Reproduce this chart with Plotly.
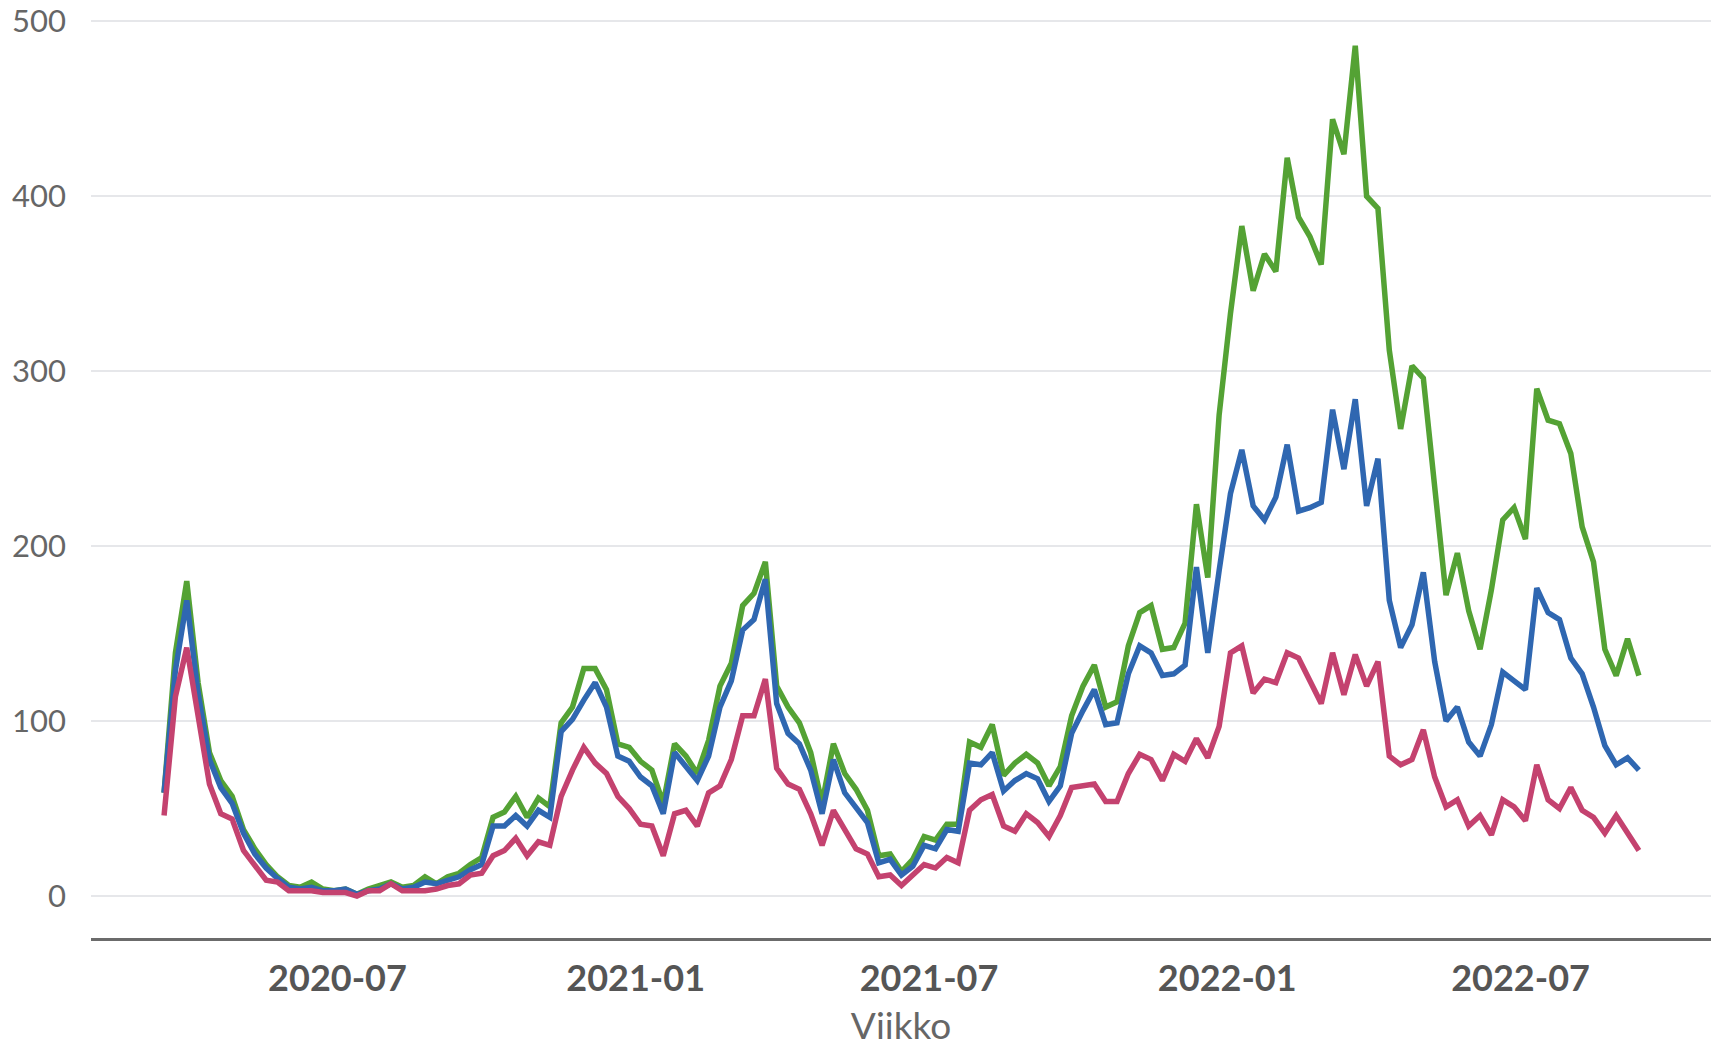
"""Weekly counts, three series, 2020-03 .. 2022-09 (Viikko on the x axis)."""

import pandas as pd
import plotly.graph_objects as go

# weekly points, Mondays, first week 2020-03-16
WEEKS = pd.date_range("2020-03-16", periods=131, freq="7D")

GREEN = [
    59, 139, 180, 122, 82, 66, 57, 38, 27, 18, 11, 6, 5, 8, 4, 3, 4, 1, 4, 6,
    8, 5, 6, 11, 7, 11, 13, 18, 22, 45, 48, 57, 45, 56, 51, 99, 108, 130, 130, 118,
    87, 85, 77, 72, 53, 87, 80, 70, 89, 120, 133, 166, 173, 191, 120, 108, 99, 82, 53, 87,
    70, 61, 49, 23, 24, 14, 21, 34, 32, 41, 41, 88, 85, 98, 69, 76, 81, 76, 63, 74,
    103, 120, 132, 108, 111, 143, 162, 166, 141, 142, 156, 224, 182, 275, 333, 383, 346, 367, 357, 422,
    388, 377, 361, 444, 424, 486, 400, 393, 312, 267, 303, 296, 233, 172, 196, 163, 141, 175, 215, 222,
    204, 290, 272, 270, 253, 211, 191, 141, 126, 147, 126,
]

BLUE = [
    59, 129, 169, 116, 78, 62, 53, 36, 24, 16, 10, 5, 4, 5, 3, 3, 4, 1, 3, 4,
    7, 4, 5, 8, 7, 9, 11, 15, 18, 40, 40, 46, 40, 49, 45, 94, 101, 112, 122, 108,
    80, 77, 68, 63, 47, 82, 74, 66, 80, 108, 123, 152, 158, 181, 110, 93, 87, 72, 47, 78,
    59, 51, 42, 19, 21, 12, 17, 29, 27, 38, 37, 76, 75, 82, 60, 66, 70, 67, 54, 63,
    93, 106, 118, 98, 99, 127, 143, 139, 126, 127, 132, 188, 139, 186, 230, 255, 223, 215, 228, 258,
    220, 222, 225, 278, 244, 284, 223, 250, 169, 142, 155, 185, 134, 100, 108, 88, 80, 98, 128, 123,
    118, 176, 162, 158, 136, 127, 108, 86, 75, 79, 72,
]

PINK = [
    46, 114, 142, 101, 64, 47, 44, 26, 18, 9, 8, 3, 3, 3, 2, 2, 2, 0, 3, 3,
    7, 3, 3, 3, 4, 6, 7, 12, 13, 23, 26, 33, 23, 31, 29, 57, 72, 85, 76, 70,
    57, 50, 41, 40, 23, 47, 49, 40, 59, 63, 78, 103, 103, 124, 73, 64, 61, 47, 29, 49,
    38, 27, 24, 11, 12, 6, 12, 18, 16, 22, 19, 49, 55, 58, 40, 37, 47, 42, 34, 46,
    62, 63, 64, 54, 54, 70, 81, 78, 66, 81, 77, 90, 79, 97, 139, 143, 116, 124, 122, 139,
    136, 123, 110, 139, 115, 138, 120, 134, 80, 75, 78, 95, 68, 51, 55, 40, 46, 35, 55, 51,
    43, 75, 55, 50, 62, 49, 45, 36, 46, 36, 26,
]

X_TICKS = ["2020-07-01", "2021-01-01", "2021-07-01", "2022-01-01", "2022-07-01"]
Y_TICKS = [0, 100, 200, 300, 400, 500]

_SERIES = [
    ("vihreä", GREEN, "#54a234"),
    ("sininen", BLUE, "#2f67b1"),
    ("punainen", PINK, "#c4426f"),
]

fig = go.Figure()
for name, values, color in _SERIES:
    fig.add_trace(
        go.Scatter(
            x=WEEKS, y=values, name=name, mode="lines",
            line=dict(color=color, width=5.5),
        )
    )

fig.update_layout(
    width=1711,
    height=1047,
    margin=dict(l=91, r=0, t=15, b=109),
    paper_bgcolor="white",
    plot_bgcolor="white",
    showlegend=False,
    font=dict(family="Lato, 'Open Sans', sans-serif", color="#666666"),
)
fig.update_xaxes(
    type="date",
    automargin=False,
    range=["2020-01-30 22:00", "2022-10-26 12:00"],
    tickvals=X_TICKS,
    tickformat="%Y-%m",
    tickfont=dict(size=36, color="#555555", weight="bold"),
    ticklabelstandoff=7,
    showgrid=False,
    zeroline=False,
    showline=True,
    linecolor="#6b6b6b",
    linewidth=3,
    title=dict(text="Viikko", font=dict(size=37, color="#666666"), standoff=27),
)
fig.update_yaxes(
    automargin=False,
    range=[-24, 503.6],
    tickvals=Y_TICKS,
    tickfont=dict(size=31, color="#666666"),
    ticklabelstandoff=24,
    ticklabeloverflow="allow",
    showgrid=True,
    gridcolor="#e6e7ea",
    gridwidth=2,
    zeroline=False,
    showline=False,
)

# drop the default body margin so the figure sits at the page corner
fig.write_html(
    "out.html",
    config={"displayModeBar": False},
    post_script="document.body.style.margin = '0';",
)
